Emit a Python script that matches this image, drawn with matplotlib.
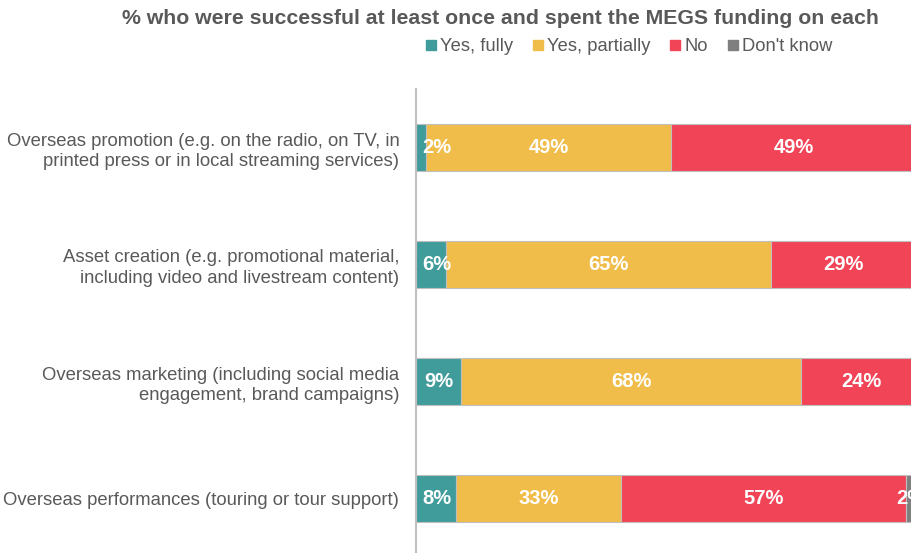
import numpy as np
import matplotlib
matplotlib.use("Agg")
import matplotlib.pyplot as plt
from matplotlib.lines import Line2D

plt.rcParams['font.family'] = ['Liberation Sans', 'DejaVu Sans']

# survey areas, top to bottom
categories = [
    "Overseas promotion (e.g. on the radio, on TV, in\nprinted press or in local streaming services)",
    "Asset creation (e.g. promotional material,\nincluding video and livestream content)",
    "Overseas marketing (including social media\nengagement, brand campaigns)",
    "Overseas performances (touring or tour support)",
]
series_names = ["Yes, fully", "Yes, partially", "No", "Don't know"]
yes_fully = [2, 6, 9, 8]
yes_partially = [49, 65, 68, 33]
no = [49, 29, 24, 57]
dont_know = [0, 0, 0, 2]

colors = ['#409C9B', '#F0BD4A', '#F14456', '#7F7F7F']
text_grey = '#595959'

fig = plt.figure(figsize=(9.12, 5.53), dpi=100)
# plot area runs past the right and bottom edges
ax = fig.add_axes([416 / 912, -4 / 553, 500 / 912, 468 / 553])

y = np.arange(len(categories))
left = np.zeros(len(categories))
for name, vals, col in zip(series_names, [yes_fully, yes_partially, no, dont_know], colors):
    vals = np.array(vals, dtype=float)
    ax.barh(y, vals, left=left, height=0.4, color=col, edgecolor='#BFBFBF',
            linewidth=0.8, label=name)
    for yi, l, v in zip(y, left, vals):
        if v <= 0:
            continue
        cx = max(l + v / 2, 4.2)
        ax.text(cx, yi, f"{v:.0f}%", ha='center', va='center', color='white',
                fontsize=14.5, fontweight='bold')
    left += vals

ax.set_xlim(0, 100)
ax.set_ylim(len(categories) - 0.5, -0.5)
ax.set_yticks(y)
ax.set_yticklabels(categories, fontsize=13.3, color=text_grey, ha='right',
                   linespacing=1.3)
ax.tick_params(axis='y', length=0, pad=12)
ax.set_xticks([])
for s in ['top', 'right', 'bottom']:
    ax.spines[s].set_visible(False)
ax.spines['left'].set_color('#BFBFBF')
ax.spines['left'].set_linewidth(1.5)

fig.text(500 / 912, 1 - 19 / 553, "% who were successful at least once and spent the MEGS funding on each",
         ha='center', va='center', fontsize=15.3, fontweight='bold', color=text_grey)

handles = [Line2D([0], [0], marker='s', linestyle='none', markersize=6.5,
                  markerfacecolor=c, markeredgecolor=c) for c in colors]
fig.legend(handles, series_names, loc='center', bbox_to_anchor=(629 / 912, 1 - 47 / 553),
           ncol=4, frameon=False, fontsize=13.2, labelcolor=text_grey,
           handletextpad=0.2, columnspacing=1.05, handlelength=0.6)

fig.savefig("out.png", dpi=100)
